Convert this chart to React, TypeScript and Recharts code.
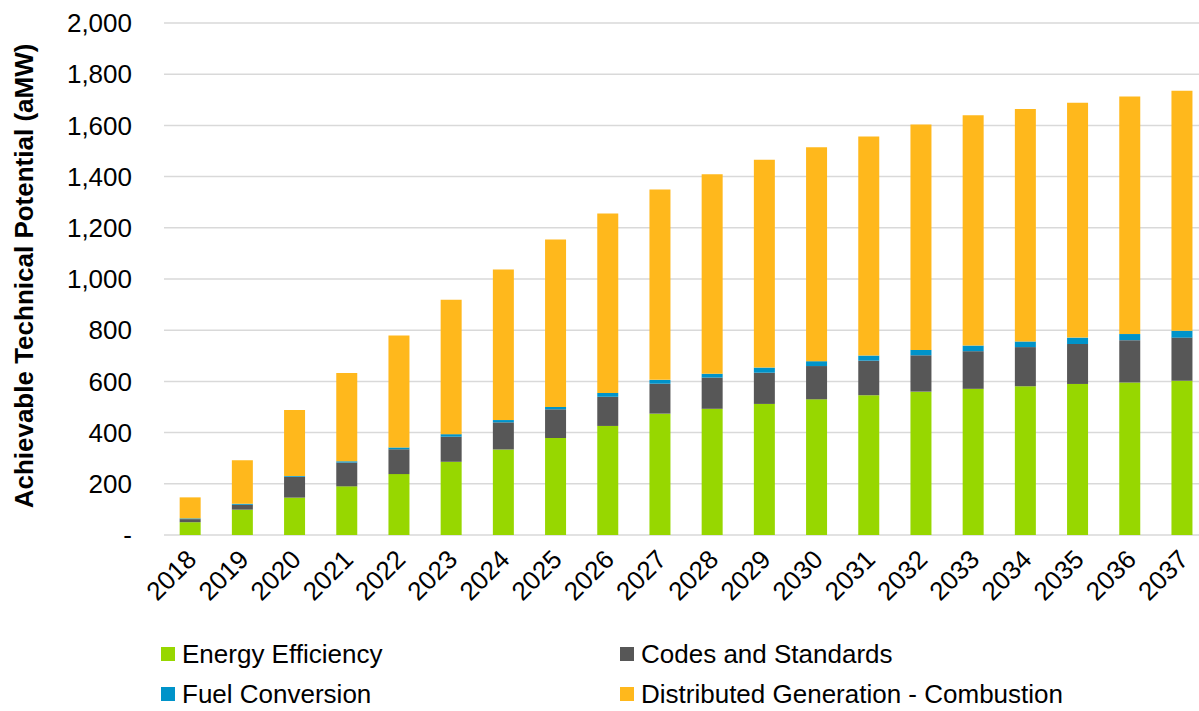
import { BarChart, Bar, XAxis, YAxis, CartesianGrid, Legend } from 'recharts'

const years = ['2018', '2019', '2020', '2021', '2022', '2023', '2024', '2025', '2026', '2027', '2028', '2029', '2030', '2031', '2032', '2033', '2034', '2035', '2036', '2037']
const energyEfficiency = [50, 99, 146, 190, 238, 286, 334, 379, 426, 474, 493, 512, 530, 546, 560, 571, 581, 590, 596, 603]
const codesStandards = [12, 19, 81, 93, 97, 98, 106, 112, 114, 117, 122, 122, 130, 135, 142, 147, 153, 156, 165, 168]
const fuelConversion = [3, 4, 3, 5, 7, 10, 9, 9, 15, 15, 15, 20, 19, 20, 21, 22, 22, 25, 24, 27]
const distributedGen = [82, 170, 258, 345, 437, 525, 588, 654, 701, 744, 779, 812, 836, 856, 881, 900, 908, 917, 928, 937]
const yTicks = [0, 200, 400, 600, 800, 1000, 1200, 1400, 1600, 1800, 2000]

const series = [
  { key: 'ee', name: 'Energy Efficiency', color: '#97d700' },
  { key: 'cs', name: 'Codes and Standards', color: '#575757' },
  { key: 'fc', name: 'Fuel Conversion', color: '#0093c9' },
  { key: 'dg', name: 'Distributed Generation - Combustion', color: '#ffb81c' },
]

const data = years.map((year, i) => ({
  year,
  ee: energyEfficiency[i],
  cs: codesStandards[i],
  fc: fuelConversion[i],
  dg: distributedGen[i],
}))

const FONT = '"Liberation Sans", Arial, sans-serif'

function YearTick({ x, y, payload }: any) {
  return (
    <text
      x={0}
      y={0}
      transform={`translate(${x + 8},${y + 26}) rotate(-45)`}
      textAnchor="end"
      fontSize={26}
      fontFamily={FONT}
      fill="#000"
    >
      {payload.value}
    </text>
  )
}

function YTitle() {
  return (
    <text
      x={0}
      y={0}
      transform="translate(33,276) rotate(-90)"
      textAnchor="middle"
      fontSize={26}
      fontWeight="bold"
      fontFamily={FONT}
      fill="#000"
    >
      Achievable Technical Potential (aMW)
    </text>
  )
}

function LegendBox() {
  const pos = [
    { left: 161, top: 32 },
    { left: 620, top: 32 },
    { left: 161, top: 72 },
    { left: 620, top: 72 },
  ]
  return (
    <div style={{ position: 'relative', width: 1199, height: 96, fontFamily: FONT }}>
      {series.map((s, i) => (
        <div
          key={s.key}
          style={{ position: 'absolute', left: pos[i].left, top: pos[i].top, display: 'flex', alignItems: 'center', height: 14 }}
        >
          <span style={{ width: 14, height: 14, background: s.color, display: 'inline-block' }} />
          <span style={{ marginLeft: 7, fontSize: 26, color: '#000', whiteSpace: 'nowrap', lineHeight: '14px' }}>{s.name}</span>
        </div>
      ))}
    </div>
  )
}

export default function App() {
  return (
    <div style={{ position: 'absolute', left: 0, top: 0, width: 1199, height: 711, overflow: 'hidden', background: '#fff' }}>
      <BarChart
        width={1208}
        height={711}
        data={data}
        margin={{ top: 23, right: 0, bottom: 0, left: 0 }}
        barCategoryGap="30%"
      >
        <CartesianGrid vertical={false} stroke="#d9d9d9" strokeWidth={1.5} />
        <XAxis
          dataKey="year"
          axisLine={false}
          tickLine={false}
          tickSize={0}
          tickMargin={0}
          height={80}
          interval={0}
          tick={<YearTick />}
        />
        <YAxis
          width={164}
          domain={[0, 2000]}
          ticks={yTicks}
          axisLine={false}
          tickLine={false}
          tickSize={0}
          tickMargin={32}
          tick={{ fontSize: 26, fill: '#000', fontFamily: FONT }}
          tickFormatter={(v: number) => (v === 0 ? '-' : v.toLocaleString('en-US'))}
          label={<YTitle />}
        />
        <Legend verticalAlign="bottom" height={96} wrapperStyle={{ left: 0, bottom: 0 }} content={<LegendBox />} />
        {series.map((s) => (
          <Bar key={s.key} dataKey={s.key} name={s.name} stackId="a" fill={s.color} isAnimationActive={false} />
        ))}
      </BarChart>
    </div>
  )
}
